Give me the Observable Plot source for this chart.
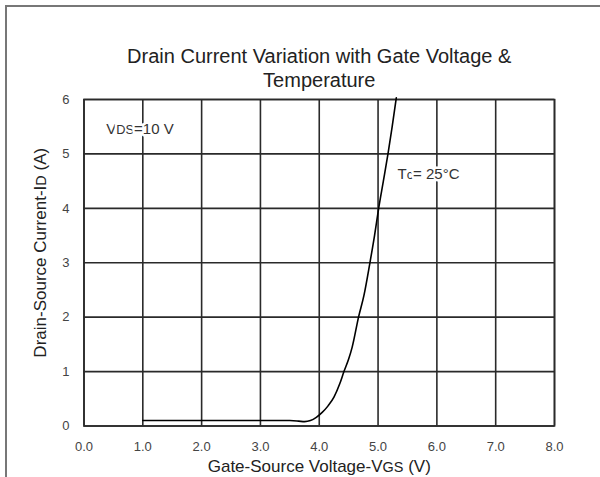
<!DOCTYPE html>
<html>
<head>
<meta charset="utf-8">
<script src="https://cdn.jsdelivr.net/npm/d3@7"></script>
<script src="https://cdn.jsdelivr.net/npm/@observablehq/plot@0.6"></script>
<style>
  html, body { margin: 0; padding: 0; background: #fff; }
  #wrap { position: relative; width: 600px; height: 477px; overflow: hidden; font-family: "Liberation Sans", Arial, sans-serif; }
  #border { position: absolute; left: 5px; top: 5px; width: 700px; height: 600px; border-left: 2px solid #777; border-top: 2px solid #777; box-sizing: border-box; }
  #chart { position: absolute; left: 0; top: 0; }
</style>
</head>
<body>
<div id="wrap"><div id="border"></div><div id="chart"></div></div>
<script>
// Data
const vgs = [1.0, 2.0, 3.0, 3.5, 3.65, 3.75, 3.85, 3.95, 4.05, 4.15, 4.25, 4.35, 4.42, 4.5, 4.56, 4.67, 4.76, 4.86, 4.94, 5.01, 5.09, 5.17, 5.24, 5.31];
const idA = [0.10, 0.10, 0.10, 0.10, 0.09, 0.08, 0.10, 0.16, 0.25, 0.37, 0.53, 0.78, 1.00, 1.23, 1.45, 2.01, 2.40, 2.99, 3.50, 4.00, 4.50, 5.01, 5.50, 6.03];
const xTicks = [0, 1, 2, 3, 4, 5, 6, 7, 8];
const yTicks = [0, 1, 2, 3, 4, 5, 6];
const titleLines = ["Drain Current Variation with Gate Voltage &", "Temperature"];
const xLabel = "Gate-Source Voltage-VGS (V)";
const yLabel = "Drain-Source Current-ID (A)";
const notes = [
  {x: 0.38, y: 5.45, text: "VDS=10 V"},
  {x: 5.33, y: 4.62, text: "Tc= 25°C"}
];
// subscript-like small parts: [prefix, small, suffix]
const smallParts = {
  "VDS=10 V": ["V", "DS", "=10 V"],
  "Tc= 25°C": ["T", "c", "= 25°C"],
  "Gate-Source Voltage-VGS (V)": ["Gate-Source Voltage-V", "GS", " (V)"],
  "Drain-Source Current-ID (A)": ["Drain-Source Current-I", "D", " (A)"]
};

const data = vgs.map((v, i) => ({v, i: idA[i]}));
const font = "Liberation Sans, Arial, sans-serif";

const plot = Plot.plot({
  width: 600,
  height: 477,
  marginLeft: 83.5,
  marginRight: 46,
  marginTop: 99,
  marginBottom: 51.5,
  style: {fontFamily: font, background: "transparent"},
  x: {domain: [0, 8], nice: false},
  y: {domain: [0, 6], nice: false},
  marks: [
    Plot.gridX(xTicks, {stroke: "#2a2a2a", strokeOpacity: 1, strokeWidth: 1.6}),
    Plot.gridY(yTicks, {stroke: "#2a2a2a", strokeOpacity: 1, strokeWidth: 1.6}),
    Plot.frame({stroke: "#2a2a2a", strokeWidth: 1.6}),
    Plot.axisX({ticks: xTicks, tickFormat: d => d.toFixed(1), tickSize: 0, tickPadding: 16, fontSize: 13, fill: "#444", label: null}),
    Plot.axisY({ticks: yTicks, tickFormat: d => String(d), tickSize: 0, tickPadding: 14.5, fontSize: 13, fill: "#444", label: null}),
    Plot.line(data, {x: "v", y: "i", curve: "monotone-x", stroke: "#000", strokeWidth: 1.6}),
    Plot.text(notes, {x: "x", y: "y", text: "text", textAnchor: "start", fontSize: 15, fill: "#333", stroke: "white", strokeWidth: 5}),
    Plot.text([titleLines[0]], {frameAnchor: "top", dy: -43, lineAnchor: "middle", fontSize: 20, fill: "#222"}),
    Plot.text([titleLines[1]], {frameAnchor: "top", dy: -19, lineAnchor: "middle", fontSize: 20, fill: "#222"}),
    Plot.text([xLabel], {frameAnchor: "bottom", dy: 41, textAnchor: "middle", lineAnchor: "middle", fontSize: 17, fill: "#222"}),
    Plot.text([yLabel], {frameAnchor: "left", dx: -43.5, dy: -10, rotate: -90, textAnchor: "middle", lineAnchor: "middle", fontSize: 17, fill: "#222"})
  ]
});

// render the subscript-like parts as smaller tspans
d3.select(plot).selectAll("text").each(function() {
  const t = this.textContent;
  const parts = smallParts[t];
  if (!parts) return;
  const sel = d3.select(this);
  sel.text(null);
  sel.append("tspan").text(parts[0]);
  sel.append("tspan").attr("font-size", "0.85em").text(parts[1]);
  sel.append("tspan").text(parts[2]);
});

document.getElementById("chart").appendChild(plot);
</script>
</body>
</html>
